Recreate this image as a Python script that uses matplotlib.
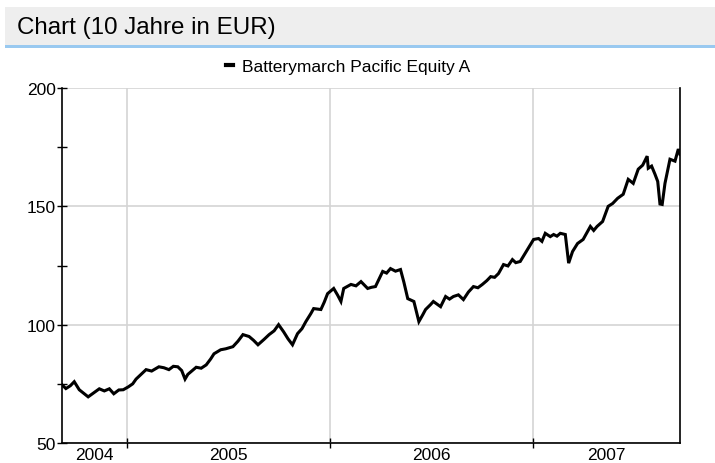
import matplotlib
matplotlib.use("Agg")
import matplotlib.pyplot as plt
import matplotlib.dates as mdates
from matplotlib.patches import Rectangle
import pandas as pd

plt.rcParams['font.family'] = ['Liberation Sans', 'DejaVu Sans']

# values
dates = ["2004-09-07", "2004-09-14", "2004-09-22", "2004-09-29", "2004-10-08",
         "2004-10-16", "2004-10-24", "2004-11-03", "2004-11-13", "2004-11-22",
         "2004-12-01", "2004-12-09", "2004-12-18", "2004-12-26", "2005-01-04",
         "2005-01-12", "2005-01-18", "2005-01-27", "2005-02-05", "2005-02-15",
         "2005-02-28", "2005-03-09", "2005-03-18", "2005-03-26", "2005-04-03",
         "2005-04-10", "2005-04-16", "2005-04-21", "2005-04-29", "2005-05-06",
         "2005-05-15", "2005-05-24", "2005-06-01", "2005-06-07", "2005-06-19",
         "2005-06-28", "2005-07-11", "2005-07-20", "2005-07-29", "2005-08-09",
         "2005-08-17", "2005-08-25", "2005-09-05", "2005-09-14", "2005-09-23",
         "2005-10-01", "2005-10-10", "2005-10-18", "2005-10-26", "2005-11-04",
         "2005-11-12", "2005-11-19", "2005-11-28", "2005-12-03", "2005-12-16",
         "2005-12-22", "2005-12-28", "2006-01-08", "2006-01-15", "2006-01-21",
         "2006-01-26", "2006-02-08", "2006-02-17", "2006-02-26", "2006-03-10",
         "2006-03-17", "2006-03-24", "2006-04-06", "2006-04-13", "2006-04-20",
         "2006-04-29", "2006-05-08", "2006-05-14", "2006-05-21", "2006-06-01",
         "2006-06-10", "2006-06-17", "2006-06-22", "2006-07-01", "2006-07-06",
         "2006-07-19", "2006-07-28", "2006-08-04", "2006-08-11", "2006-08-20",
         "2006-08-29", "2006-09-07", "2006-09-16", "2006-09-24", "2006-10-02",
         "2006-10-10", "2006-10-17", "2006-10-24", "2006-10-31", "2006-11-09",
         "2006-11-17", "2006-11-25", "2006-12-01", "2006-12-09", "2006-12-16",
         "2006-12-22", "2007-01-02", "2007-01-11", "2007-01-17", "2007-01-23",
         "2007-02-01", "2007-02-07", "2007-02-13", "2007-02-19", "2007-02-28",
         "2007-03-06", "2007-03-13", "2007-03-22", "2007-04-01", "2007-04-08",
         "2007-04-14", "2007-04-20", "2007-04-26", "2007-05-06", "2007-05-16",
         "2007-05-24", "2007-06-02", "2007-06-12", "2007-06-21", "2007-06-30",
         "2007-07-09", "2007-07-17", "2007-07-25", "2007-07-27", "2007-08-02",
         "2007-08-08", "2007-08-13", "2007-08-17", "2007-08-21", "2007-08-26",
         "2007-09-04", "2007-09-13", "2007-09-19", "2007-09-22"]
prices = [74.6, 73.0, 74.2, 75.9, 72.5,
          71.0, 69.5, 71.2, 72.9, 72.0,
          72.9, 70.8, 72.4, 72.5, 73.7,
          75.0, 77.0, 79.0, 81.0, 80.4,
          82.2, 81.8, 81.0, 82.4, 82.2,
          80.6, 77.0, 79.0, 80.6, 82.0,
          81.6, 83.0, 85.5, 87.7, 89.4,
          89.8, 90.7, 93.0, 95.8, 95.0,
          93.4, 91.5, 93.8, 95.8, 97.4,
          100.0, 97.0, 94.0, 91.5, 96.2,
          98.3, 101.3, 104.7, 106.8, 106.4,
          109.5, 113.1, 115.3, 112.5, 109.8,
          115.3, 117.0, 116.4, 118.2, 115.3,
          115.8, 116.1, 122.5, 121.8, 123.7,
          122.6, 123.3, 118.0, 111.0, 109.8,
          101.3, 104.2, 106.4, 108.5, 109.8,
          107.6, 111.9, 110.8, 111.9, 112.6,
          110.6, 113.8, 116.1, 115.6, 117.0,
          118.6, 120.3, 120.0, 121.6, 125.4,
          124.8, 127.5, 126.2, 126.7, 129.4,
          131.8, 136.0, 136.4, 135.2, 138.6,
          137.2, 138.1, 137.4, 138.6, 138.1,
          126.0, 130.9, 134.3, 136.0, 139.0,
          141.5, 139.8, 141.5, 143.6, 150.0,
          151.2, 153.4, 155.1, 161.4, 159.7,
          165.7, 167.4, 171.2, 166.1, 167.0,
          163.6, 160.5, 151.0, 150.8, 159.7,
          169.9, 169.1, 174.2, 172.0]
series_name = "Batterymarch Pacific Equity A"
years = [2004, 2005, 2006, 2007]

x = pd.to_datetime(dates)

fig = plt.figure(figsize=(7.15, 4.64), dpi=100)
ax = fig.add_axes([62/715, 1-444/464, (680-62)/715, (444-89)/464])

# header bar
fig.patches.append(Rectangle((5/715, 1-46/464), 710/715, 38/464, transform=fig.transFigure,
                             facecolor='#eeeeee', edgecolor='none', zorder=0))
fig.patches.append(Rectangle((5/715, 1-49/464), 710/715, 3/464, transform=fig.transFigure,
                             facecolor='#99c9f0', edgecolor='none', zorder=0))
fig.text(17/715, 1-28/464, "Chart (10 Jahre in EUR)", fontsize=17.4, va='center', ha='left')

ax.plot(x, prices, color='black', lw=2.2, label=series_name, solid_joinstyle='miter')

start, end = mdates.date2num(x[0]), mdates.date2num(x[-1])
ax.set_xlim(start, end)
ax.set_ylim(50, 200)

bounds = [mdates.date2num(pd.Timestamp(f"{y}-01-01")) for y in years[1:]]
ax.set_xticks(bounds)
ax.set_xticklabels([])
edges = [start] + bounds + [end]
centers = [(a + b) / 2 for a, b in zip(edges[:-1], edges[1:])]
ax.set_xticks(centers, minor=True)
ax.set_xticklabels([str(y) for y in years], minor=True, fontsize=12.5)
ax.tick_params(axis='x', which='minor', length=0, pad=3)
ax.tick_params(axis='x', which='major', direction='inout', length=7, width=1)

ax.set_yticks([50, 100, 150, 200])
ax.set_yticks([75, 125, 175], minor=True)
ax.tick_params(axis='y', which='both', direction='inout', length=7, width=1, labelsize=12.5, pad=1)

ax.grid(True, which='major', color='#d4d4d4', lw=1.2)
ax.set_axisbelow(True)
for s in ['left', 'bottom', 'right']:
    ax.spines[s].set_color('black')
    ax.spines[s].set_linewidth(1.2)
ax.spines['top'].set_visible(False)

leg = fig.legend(loc='center', bbox_to_anchor=(348/715, 1-67/464), frameon=False,
                 fontsize=12.5, handlelength=0.4, handletextpad=0.5, borderpad=0)
for h in leg.legend_handles:
    h.set_linewidth(3)

fig.savefig("out.png", dpi=100)
